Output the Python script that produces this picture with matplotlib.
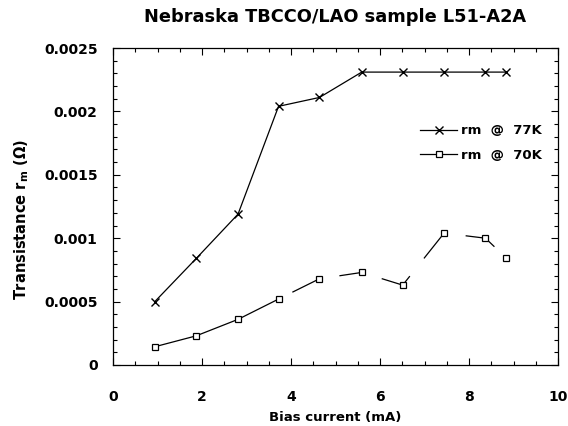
import matplotlib
matplotlib.use("Agg")
import matplotlib.pyplot as plt
from matplotlib.ticker import MultipleLocator

plt.rcParams['font.family'] = ['DejaVu Sans']
plt.rcParams['font.weight'] = 'bold'
plt.rcParams['mathtext.fontset'] = 'dejavusans'
plt.rcParams['lines.scale_dashes'] = False

# Data
bias_77 = [0.94, 1.87, 2.81, 3.72, 4.64, 5.59, 6.51, 7.44, 8.37, 8.83]
rm_77 = [0.00050, 0.00084, 0.00119, 0.00204, 0.00211, 0.00231, 0.00231, 0.00231, 0.00231, 0.00231]
bias_70 = [0.94, 1.87, 2.81, 3.72, 4.64, 5.59, 6.51, 7.44, 8.37, 8.83]
rm_70 = [0.000144, 0.00023, 0.00036, 0.00052, 0.00068, 0.00073, 0.00063, 0.00104, 0.00100, 0.000846]
x_ticks = [0, 2, 4, 6, 8, 10]
y_ticks = [0, 0.0005, 0.001, 0.0015, 0.002, 0.0025]
y_tick_labels = ['0', '0.0005', '0.001', '0.0015', '0.002', '0.0025']

W, H = 568, 426
fig = plt.figure(figsize=(W / 100, H / 100), dpi=100)
ax = fig.add_axes([113 / W, 1 - 365 / H, 445 / W, 317 / H])

ax.plot(bias_77, rm_77, color='black', lw=0.9, marker='x', ms=6, mew=1.0,
        label='rm  @  77K')
# broken (dashed) connecting line as in the reference
dash_seq = (98.6, 8.3, 24.1, 12.2, 19.1, 12.2, 24.1, 16.3, 23.1, 15.8, 23.3, 11.5)
ax.plot(bias_70, rm_70, color='black', lw=0.9, marker='s', ms=5, mew=0.9,
        mfc='white', mec='black', linestyle=(0, dash_seq),
        label='rm  @  70K')

ax.set_xlim(0, 10)
ax.set_ylim(0, 0.0025)
ax.set_xticks(x_ticks)
ax.set_xticklabels([str(v) for v in x_ticks])
ax.set_yticks(y_ticks)
ax.set_yticklabels(y_tick_labels)
ax.xaxis.set_minor_locator(MultipleLocator(0.5))
ax.yaxis.set_minor_locator(MultipleLocator(0.0001))
ax.tick_params(which='both', direction='in', top=True, right=True, width=0.8)
ax.tick_params(which='major', length=5)
ax.tick_params(which='minor', length=3)
ax.tick_params(axis='x', which='major', pad=18, labelsize=10)
ax.tick_params(axis='y', which='major', pad=11, labelsize=10)
for s in ax.spines.values():
    s.set_linewidth(0.9)

# legend with solid handle for the 70K entry
from matplotlib.lines import Line2D
h77 = Line2D([], [], color='black', lw=0.9, marker='x', ms=6, mew=1.0)
h70 = Line2D([], [], color='black', lw=0.9, marker='s', ms=5, mew=0.9,
             mfc='white', mec='black')
ax.legend([h77, h70], ['rm  @  77K', 'rm  @  70K'], loc='center left',
          bbox_to_anchor=(0.691, 0.70), frameon=False,
          borderpad=0, borderaxespad=0, handlelength=2.8,
          handletextpad=0.3, labelspacing=0.9, prop={'size': 9.5, 'weight': 'bold'})

fig.text(335 / W, 1 - 17 / H, 'Nebraska TBCCO/LAO sample L51-A2A',
         ha='center', va='center', fontsize=12.8, fontweight='bold')
fig.text(335 / W, 1 - 417 / H, 'Bias current (mA)', ha='center', va='center',
         fontsize=9.5, fontweight='bold')
fig.text(22 / W, 1 - 220 / H, r'Transistance r$_{\mathbf{m}}$ ($\mathbf{\Omega}$)',
         ha='center', va='center', rotation=90, fontsize=10.5, fontweight='bold')

fig.savefig('out.png', dpi=100)
